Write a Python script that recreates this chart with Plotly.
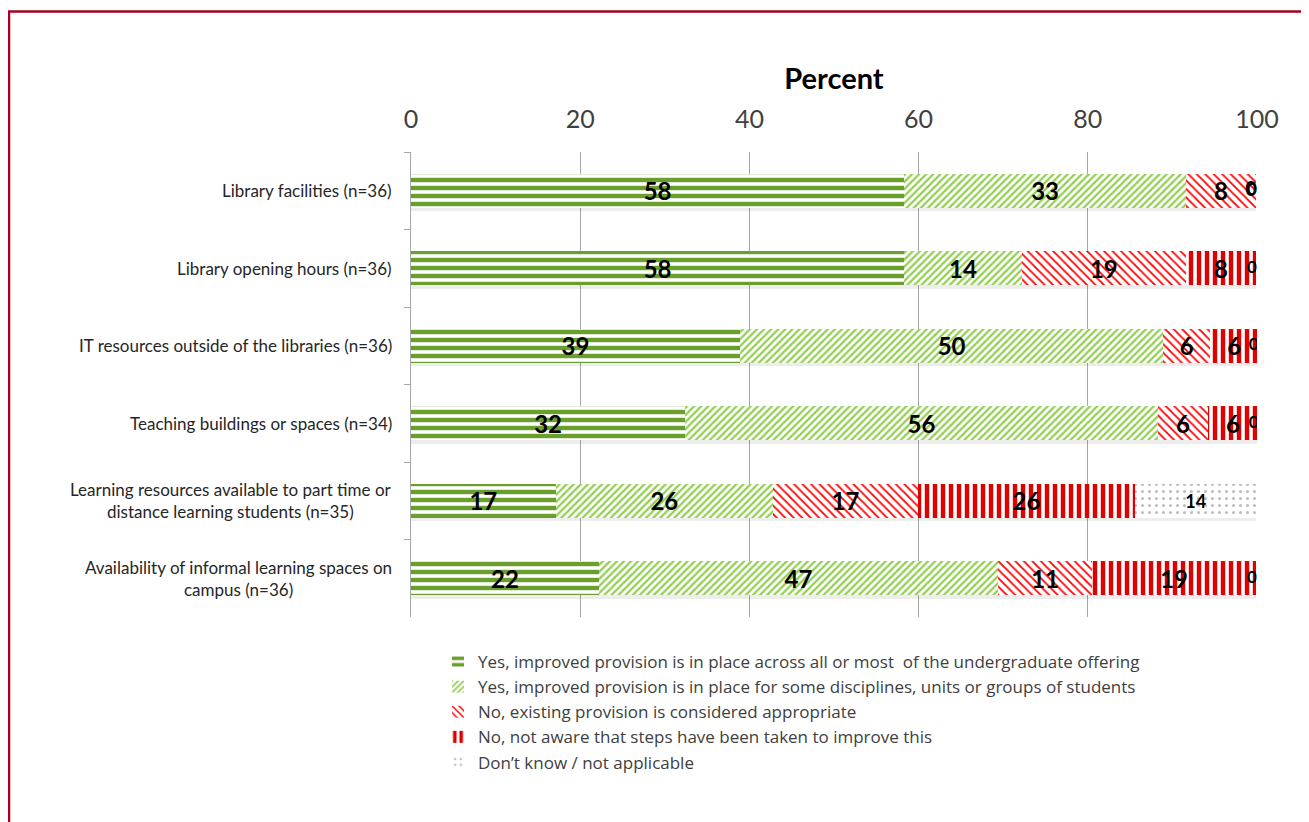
import plotly.graph_objects as go

categories = [
    "Library facilities (n=36)",
    "Library opening hours (n=36)",
    "IT resources outside of the libraries (n=36)",
    "Teaching buildings or spaces (n=34)",
    "Learning resources available to part time or<br>distance learning students (n=35)",
    "Availability of informal learning spaces on<br>campus (n=36)",
]
series_names = [
    "Yes, improved provision is in place across all or most  of the undergraduate offering",
    "Yes, improved provision is in place for some disciplines, units or groups of students",
    "No, existing provision is considered appropriate",
    "No, not aware that steps have been taken to improve this",
    "Don\u2019t know / not applicable",
]
yes_all = [58.3, 58.3, 38.9, 32.4, 17.1, 22.2]
yes_some = [33.3, 13.9, 50.0, 55.9, 25.7, 47.2]
no_appropriate = [8.3, 19.4, 5.6, 5.9, 17.1, 11.1]
no_not_aware = [0, 8.3, 5.6, 5.9, 25.7, 19.4]
dont_know = [0, 0, 0, 0, 14.3, 0]
tick_vals = [0, 20, 40, 60, 80, 100]

series = [yes_all, yes_some, no_appropriate, no_not_aware, dont_know]
styles = [
    dict(shape="-", fg="#6A9E2D", size=8, sol=0.55),
    dict(shape="/", fg="#92CF50", size=5, sol=0.45),
    dict(shape="\\", fg="#FF0000", size=6, sol=0.3),
    dict(shape="|", fg="#E00000", size=8, sol=0.55),
    dict(shape=".", fg="#BDBDBD", size=7, sol=0.15),
]
label_sizes = [24, 24, 24, 24, 18]

# browser body margin shifts the figure by 8px; compensate
OFF = 8
W, H = 1309 - OFF, 822 - OFF
ml, mr, mt, mb = 411 - OFF, 52, 152 - OFF, 822 - 617
pw, ph = W - ml - mr, H - mt - mb
def px2x(px): return (px - OFF - ml) / pw
def py2y(py): return (H - mb - (py - OFF)) / ph

fig = go.Figure()

# soft shadow beneath each stacked bar
totals = [sum(s[j] for s in series) for j in range(len(categories))]
fig.add_trace(go.Bar(
    y=categories, x=totals, orientation="h", width=0.44, offset=-0.22 + 0.045,
    marker=dict(color="rgba(0,0,0,0.07)", line=dict(width=0)),
    showlegend=False, hoverinfo="skip", yaxis="y",
))

cum = [0.0] * len(categories)
zero_pts = []
for i, (vals, name, st) in enumerate(zip(series, series_names, styles)):
    texts = [f"{v:.0f}" if v > 0 else "" for v in vals]
    fig.add_trace(go.Bar(
        y=categories, x=vals, name=name, orientation="h", width=0.44, yaxis="y2",
        marker=dict(color="white", line=dict(width=0),
                    pattern=dict(shape=st["shape"], fgcolor=st["fg"], bgcolor="white",
                                 fgopacity=1, size=st["size"], solidity=st["sol"],
                                 fillmode="replace")),
        text=texts, textposition="inside", insidetextanchor="middle",
        constraintext="none", textangle=0,
        textfont=dict(family="Lato", size=label_sizes[i], color="black", weight="bold"),
        hoverinfo="skip",
    ))
    for j, v in enumerate(vals):
        cum[j] += v
        if v == 0:
            zero_pts.append((cum[j], categories[j], i))

bold_zero = [p for p in zero_pts if p[2] < 4]
norm_zero = [p for p in zero_pts if p[2] == 4]
fig.add_trace(go.Scatter(
    x=[p[0] - 0.5 for p in norm_zero], y=[p[1] for p in norm_zero], mode="text",
    text=["0"] * len(norm_zero), showlegend=False, hoverinfo="skip", yaxis="y2",
    textfont=dict(family="Lato", size=17, color="black", weight="bold"),
))
fig.add_trace(go.Scatter(
    x=[p[0] - 0.6 for p in bold_zero], y=[p[1] for p in bold_zero], mode="text",
    text=["0"] * len(bold_zero), showlegend=False, hoverinfo="skip", yaxis="y2",
    textfont=dict(family="Lato", size=20, color="black", weight="bold"),
))

for c in categories:
    fig.add_annotation(x=-0.02, xref="paper", y=c, yref="y", text=c, showarrow=False,
                       xanchor="right", align="center",
                       font=dict(family="Lato", size=17, color="#262626"))

fig.add_shape(type="path", xref="paper", yref="paper",
              path=f"M {px2x(1340)} {py2y(11.5)} L {px2x(9)} {py2y(11.5)} L {px2x(9)} {py2y(850)}",
              line=dict(color="#A50021", width=2.5), layer="above")

yax = dict(autorange=False, range=[5.5, -0.5], type="category", categoryorder="array",
           categoryarray=categories)
fig.update_layout(
    width=W, height=H, barmode="stack",
    margin=dict(l=ml, r=mr, t=mt, b=mb),
    paper_bgcolor="white", plot_bgcolor="white",
    font=dict(family="Lato", color="#404040"),
    showlegend=True,
    legend=dict(x=px2x(438), y=py2y(644), xanchor="left", yanchor="top",
                font=dict(family="Open Sans", size=17, color="#404040"),
                traceorder="normal", itemwidth=30, tracegroupgap=0,
                bgcolor="rgba(0,0,0,0)"),
    xaxis=dict(side="top", range=[0, 100], tickvals=tick_vals, showgrid=True,
               gridcolor="#A6A6A6", gridwidth=1, zeroline=False, showline=False,
               tickfont=dict(family="Lato", size=25, color="#404040"),
               ticks="", ticklabelstandoff=18,
               title=dict(text="<b>Percent</b>", font=dict(family="Lato", size=29, color="#000000"),
                          standoff=4)),
    yaxis=dict(showticklabels=False, showline=True,
               linecolor="#A6A6A6", linewidth=1, ticks="outside", ticklen=6,
               tickcolor="#A6A6A6", tickson="boundaries", showgrid=False, **yax),
    yaxis2=dict(overlaying="y", showticklabels=False, showline=False, ticks="",
                showgrid=False, **yax),
)
fig.write_html("out.html")
